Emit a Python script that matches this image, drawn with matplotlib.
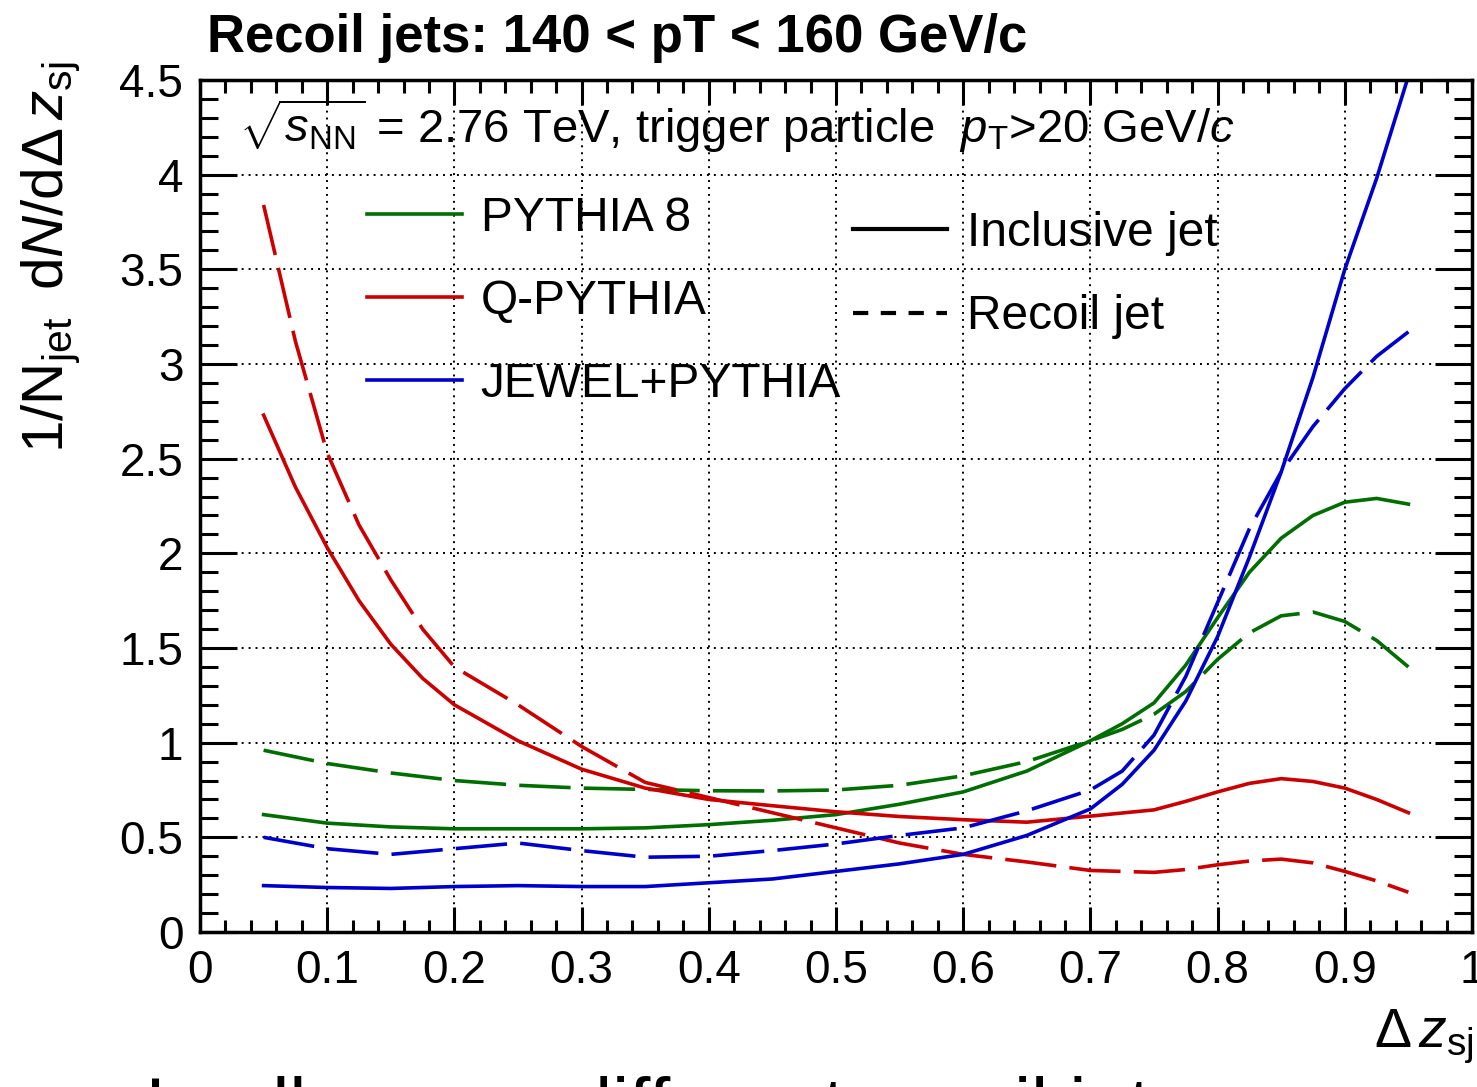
import matplotlib
matplotlib.use('Agg')
import matplotlib.pyplot as plt
from matplotlib.lines import Line2D
from matplotlib.ticker import MultipleLocator, FixedLocator, FixedFormatter

plt.rcParams['font.family'] = ['Liberation Sans', 'DejaVu Sans']
plt.rcParams['mathtext.fontset'] = 'custom'
plt.rcParams['mathtext.rm'] = 'Liberation Sans'
plt.rcParams['mathtext.it'] = 'Liberation Sans:italic'
plt.rcParams['mathtext.bf'] = 'Liberation Sans:bold'
plt.rcParams['lines.scale_dashes'] = False

# values, x = delta z_sj
pythia_x = [0.05, 0.10, 0.15, 0.20, 0.25, 0.30, 0.35, 0.40, 0.45, 0.50, 0.55, 0.60,
            0.65, 0.70, 0.725, 0.75, 0.775, 0.80, 0.825, 0.85, 0.875, 0.90, 0.925, 0.95]
pythia_incl = [0.62, 0.575, 0.555, 0.545, 0.545, 0.545, 0.55, 0.567, 0.59, 0.62, 0.675, 0.74,
               0.85, 1.01, 1.10, 1.21, 1.41, 1.66, 1.90, 2.08, 2.20, 2.27, 2.29, 2.26]
pythia_recoil = [0.96, 0.89, 0.84, 0.80, 0.775, 0.76, 0.753, 0.746, 0.745, 0.75, 0.775, 0.825,
                 0.90, 1.01, 1.07, 1.15, 1.27, 1.44, 1.58, 1.67, 1.69, 1.64, 1.54, 1.40]

qpythia_x = [0.05, 0.075, 0.10, 0.125, 0.15, 0.175, 0.20, 0.25, 0.30, 0.35, 0.40, 0.45, 0.50,
             0.55, 0.60, 0.65, 0.70, 0.75, 0.775, 0.80, 0.825, 0.85, 0.875, 0.90, 0.925, 0.95]
qpythia_incl = [2.73, 2.35, 2.03, 1.75, 1.52, 1.34, 1.20, 1.01, 0.86, 0.76, 0.70, 0.667, 0.635,
                0.61, 0.593, 0.58, 0.612, 0.645, 0.69, 0.74, 0.785, 0.81, 0.795, 0.76, 0.70, 0.63]
qpythia_recoil = [3.84, 3.12, 2.53, 2.15, 1.86, 1.60, 1.40, 1.20, 0.98, 0.79, 0.71, 0.63, 0.55,
                  0.47, 0.41, 0.37, 0.325, 0.315, 0.33, 0.355, 0.375, 0.385, 0.365, 0.32, 0.27, 0.21]

jewel_x = [0.05, 0.10, 0.15, 0.20, 0.25, 0.30, 0.35, 0.40, 0.45, 0.50, 0.55, 0.60, 0.65,
           0.70, 0.725, 0.75, 0.775, 0.80, 0.825, 0.85, 0.875, 0.90, 0.925, 0.95]
jewel_incl = [0.245, 0.235, 0.23, 0.24, 0.245, 0.24, 0.24, 0.26, 0.28, 0.32, 0.36, 0.41, 0.51,
              0.65, 0.78, 0.96, 1.22, 1.56, 1.98, 2.43, 2.93, 3.50, 3.98, 4.52]
jewel_recoil = [0.50, 0.44, 0.41, 0.44, 0.47, 0.43, 0.395, 0.40, 0.43, 0.465, 0.51, 0.55, 0.64,
                0.75, 0.85, 1.04, 1.35, 1.74, 2.13, 2.43, 2.67, 2.87, 3.04, 3.17]

models = ['PYTHIA 8', 'Q-PYTHIA', 'JEWEL+PYTHIA']
colors = ['#006e00', '#cc0000', '#0000cc']
xtick_labels = ['0', '0.1', '0.2', '0.3', '0.4', '0.5', '0.6', '0.7', '0.8', '0.9', '1']
ytick_labels = ['0', '0.5', '1', '1.5', '2', '2.5', '3', '3.5', '4', '4.5']

fig = plt.figure(figsize=(14.77, 10.87), dpi=100)
ax = fig.add_axes([200 / 1477, 155 / 1087, 1272 / 1477, 852 / 1087])

long_dash = (0, (37, 9.5))
xs = [pythia_x, qpythia_x, jewel_x]
incl = [pythia_incl, qpythia_incl, jewel_incl]
recoil = [pythia_recoil, qpythia_recoil, jewel_recoil]
for i in range(3):
    ax.plot(xs[i], incl[i], color=colors[i], lw=2.6)
    ax.plot(xs[i], recoil[i], color=colors[i], lw=2.6, linestyle=long_dash)

ax.set_xlim(0, 1)
ax.set_ylim(0, 4.5)
ax.xaxis.set_major_locator(FixedLocator([i / 10 for i in range(11)]))
ax.xaxis.set_major_formatter(FixedFormatter(xtick_labels))
ax.xaxis.set_minor_locator(MultipleLocator(0.02))
ax.yaxis.set_major_locator(FixedLocator([i / 2 for i in range(10)]))
ax.yaxis.set_major_formatter(FixedFormatter(ytick_labels))
ax.yaxis.set_minor_locator(MultipleLocator(0.1))

ax.tick_params(which='both', direction='in', top=True, right=True, width=2.2,
               labelsize=33)
ax.tick_params(axis='x', which='major', length=18, pad=12)
ax.tick_params(axis='x', which='minor', length=9)
ax.tick_params(axis='y', which='major', length=26.5, pad=12)
ax.tick_params(axis='y', which='minor', length=13)
for s in ax.spines.values():
    s.set_linewidth(2.5)

ax.grid(True, which='major', color='black', linestyle=(0, (1.4, 3.6)), linewidth=1.4)
ax.set_axisbelow(True)

# legends
model_handles = [Line2D([], [], color=c, lw=2.6) for c in colors]
leg1 = ax.legend(model_handles, models, loc='center left', bbox_to_anchor=(0.131, 0.740),
                 frameon=False, fontsize=34.5, handlelength=1.98, handletextpad=0.4,
                 labelspacing=0.79, borderpad=0, borderaxespad=0)
ax.add_artist(leg1)
style_handles = [Line2D([], [], color='black', lw=3.0),
                 Line2D([], [], color='black', lw=3.0, linestyle=(0, (11, 9)))]
ax.legend(style_handles, ['Inclusive jet', 'Recoil jet'], loc='center left',
          bbox_to_anchor=(0.513, 0.771), frameon=False, fontsize=34.5,
          handlelength=1.98, handletextpad=0.4, labelspacing=0.8,
          borderpad=0, borderaxespad=0)

ax.text(0.031, 0.926,
        r'$\sqrt{s_{\rm NN}}$ = 2.76 TeV, trigger particle  $p_{\rm T}$>20 GeV/$c$',
        transform=ax.transAxes, fontsize=34, va='baseline', ha='left')

fig.text(207 / 1477, 1 - 52 / 1087, 'Recoil jets: 140 < pT < 160 GeV/c',
         fontsize=38, fontweight='bold', va='baseline', ha='left')
fig.text(63 / 1477, 1 - 62 / 1087,
         r'$1/{\rm N}_{\rm jet}\;\;{\rm d}N/{\rm d}\Delta\, z_{\rm sj}$',
         rotation=90, rotation_mode='anchor', fontsize=42, ha='right', va='baseline')
fig.text(1474 / 1477, 1 - 1047 / 1087, r'$\Delta\, z_{\rm sj}$',
         fontsize=40, ha='right', va='baseline')
# slide text cut off at the bottom edge
fig.text(145 / 1477, 1 - 1131 / 1087, 'In all cases, different recoil jet',
         fontsize=55, ha='left', va='baseline')

fig.savefig('out.png', dpi=100)
